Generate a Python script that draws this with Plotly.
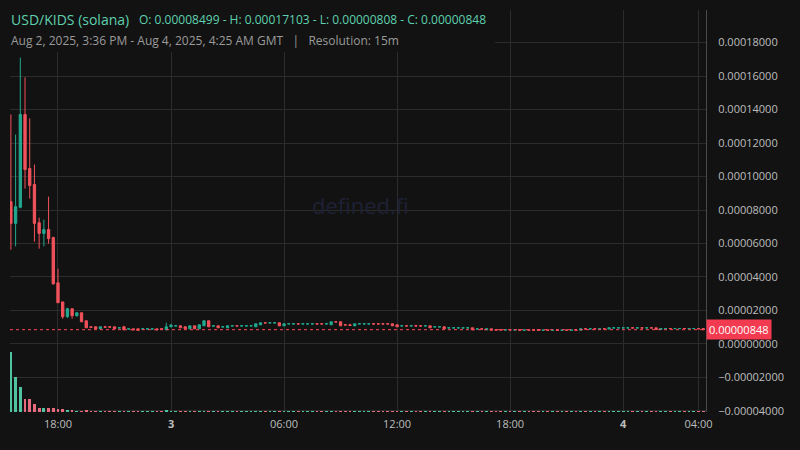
import pandas as pd
import plotly.graph_objects as go

# ---------------- data (prices in units of 1e-6 USD) ----------------
start_time = "2025-08-02 15:30"
n_candles = 148

open_u = [84.99, 72.0, 81.6, 137.1, 104.8, 95.2, 72.4, 66.0, 68.3, 63.5,
          36.5, 25.1, 16.2, 21.0, 16.8, 18.6, 13.8, 10.2, 10.2, 9.0,
          10.2, 10.2, 10.2, 9.5, 10.2, 8.9, 9.0, 9.0, 8.9, 8.9,
          8.9, 9.0, 9.0, 8.4, 10.2, 10.7, 10.8, 10.2, 9.0, 10.8,
          9.0, 10.8, 13.8, 10.6, 10.8, 10.1, 9.6, 10.7, 10.8, 10.7,
          10.7, 10.7, 10.2, 11.4, 12.6, 12.5, 12.5, 12.6, 10.8, 11.9,
          11.9, 12.0, 11.9, 11.9, 11.9, 12.0, 12.0, 11.9, 11.4, 13.2,
          13.2, 11.4, 11.4, 10.8, 11.9, 11.9, 11.9, 12.0, 12.0, 12.0,
          12.0, 12.0, 11.4, 10.7, 10.8, 10.7, 10.8, 10.8, 10.7, 10.8,
          10.1, 10.1, 10.2, 9.5, 9.5, 9.5, 9.5, 9.5, 9.6, 8.9,
          9.0, 8.4, 9.0, 8.4, 8.4, 8.3, 8.4, 8.3, 8.4, 8.2,
          8.3, 8.3, 8.6, 8.1, 8.3, 8.1, 8.3, 8.1, 8.3, 8.1,
          8.3, 8.2, 9.0, 8.9, 9.0, 8.9, 9.0, 8.9, 9.5, 9.5,
          9.5, 9.5, 9.6, 9.5, 9.6, 9.5, 9.6, 9.6, 8.6, 9.1,
          9.2, 9.1, 9.1, 9.2, 9.1, 9.1, 9.2, 9.2]
high_u = [137.1, 125.1, 171.03, 159.3, 134.7, 107.2, 75.4, 74.2, 88.0, 64.1,
          44.9, 25.1, 21.6, 21.0, 18.6, 18.6, 13.8, 10.2, 10.2, 10.2,
          10.2, 10.2, 10.2, 9.6, 10.8, 9.0, 9.0, 9.0, 9.0, 9.0,
          9.0, 9.0, 9.0, 12.6, 12.0, 10.8, 10.8, 10.2, 10.8, 10.8,
          11.4, 13.8, 13.8, 10.8, 10.8, 10.2, 10.8, 10.8, 10.8, 10.8,
          10.8, 10.8, 12.0, 12.6, 12.6, 12.6, 12.6, 12.6, 12.0, 12.0,
          12.0, 12.0, 12.0, 12.0, 12.0, 12.0, 12.0, 12.6, 13.2, 13.2,
          13.2, 11.4, 12.0, 12.0, 12.0, 12.0, 12.0, 12.0, 12.0, 12.0,
          12.0, 12.0, 11.4, 10.8, 10.8, 10.8, 11.4, 10.8, 10.8, 10.8,
          10.2, 10.2, 10.2, 9.6, 9.6, 9.6, 9.6, 9.6, 9.6, 9.0,
          9.0, 9.0, 9.0, 8.4, 8.4, 8.4, 8.4, 8.4, 8.4, 8.3,
          8.3, 8.3, 8.6, 8.2, 8.3, 8.2, 8.3, 8.2, 8.3, 8.3,
          8.3, 9.0, 9.0, 9.0, 9.0, 9.0, 9.0, 9.6, 9.6, 9.6,
          9.6, 9.6, 9.6, 9.6, 9.6, 9.6, 9.6, 9.6, 9.2, 9.2,
          9.2, 9.2, 9.2, 9.2, 9.2, 9.2, 9.2, 9.2]
low_u = [56.3, 58.3, 81.0, 92.8, 86.8, 61.1, 56.9, 58.3, 59.9, 35.3,
         24.6, 15.0, 15.6, 15.0, 16.2, 13.2, 9.6, 9.9, 9.0, 9.0,
         10.0, 10.0, 9.0, 9.5, 8.4, 8.9, 8.4, 8.08, 8.9, 8.9,
         8.9, 8.4, 8.9, 8.4, 10.2, 10.7, 9.6, 9.0, 9.0, 9.0,
         9.0, 10.8, 10.2, 10.6, 9.6, 10.1, 9.6, 10.7, 10.7, 10.7,
         10.7, 10.7, 10.2, 11.4, 12.5, 12.5, 12.5, 10.8, 10.8, 11.9,
         11.9, 11.9, 11.9, 11.9, 11.9, 11.9, 11.9, 11.9, 11.4, 13.1,
         10.8, 11.3, 10.8, 10.8, 11.9, 11.9, 11.9, 11.9, 11.9, 11.9,
         11.9, 10.8, 10.2, 10.7, 10.7, 10.7, 10.7, 10.7, 10.7, 9.6,
         10.1, 10.1, 9.0, 9.5, 9.5, 9.5, 9.5, 9.5, 8.4, 8.9,
         8.9, 8.4, 8.2, 8.3, 8.3, 8.3, 8.3, 8.3, 8.2, 8.2,
         8.2, 8.2, 8.08, 8.1, 8.2, 8.1, 8.1, 8.1, 8.2, 8.1,
         8.2, 8.2, 8.9, 8.9, 8.9, 8.9, 8.9, 8.9, 9.5, 9.5,
         9.5, 9.5, 9.5, 9.5, 9.5, 9.5, 9.5, 8.6, 8.6, 9.1,
         9.1, 9.1, 9.1, 9.1, 9.1, 9.1, 9.0, 8.48]
close_u = [72.0, 82.0, 137.1, 104.2, 94.6, 72.0, 66.0, 68.3, 62.9, 35.9,
           24.6, 16.2, 21.0, 16.8, 18.6, 13.2, 9.6, 9.9, 9.0, 10.2,
           10.0, 10.0, 9.0, 9.6, 8.4, 9.0, 8.4, 8.1, 9.0, 9.0,
           9.0, 8.4, 8.9, 10.2, 11.2, 10.8, 9.6, 9.0, 10.8, 9.0,
           11.4, 13.8, 10.2, 10.8, 9.6, 10.2, 10.8, 10.8, 10.7, 10.8,
           10.8, 10.8, 12.0, 12.6, 12.5, 12.6, 12.6, 10.8, 12.0, 12.0,
           12.0, 11.9, 12.0, 12.0, 12.0, 11.9, 11.9, 12.0, 13.2, 13.1,
           10.8, 11.3, 11.0, 12.0, 12.0, 12.0, 12.0, 11.9, 11.9, 11.9,
           11.9, 10.8, 10.2, 10.8, 10.7, 10.8, 10.7, 10.7, 10.8, 9.6,
           10.2, 10.2, 9.0, 9.6, 9.6, 9.6, 9.6, 9.6, 8.4, 9.0,
           8.9, 9.0, 8.2, 8.3, 8.3, 8.4, 8.3, 8.4, 8.2, 8.3,
           8.2, 8.2, 8.1, 8.2, 8.2, 8.2, 8.1, 8.2, 8.2, 8.3,
           8.2, 9.0, 8.9, 9.0, 8.9, 9.0, 8.9, 9.6, 9.6, 9.6,
           9.6, 9.6, 9.5, 9.6, 9.5, 9.6, 9.5, 8.6, 9.2, 9.2,
           9.1, 9.2, 9.2, 9.1, 9.2, 9.2, 9.0, 8.48]

volume = [5970, 3470, 2470, 1270, 1270, 770, 370, 370, 370, 370,
          270, 270, 170, 170, 90, 90, 170, 60, 60, 70,
          60, 50, 60, 50, 70, 50, 60, 60, 50, 50,
          50, 60, 50, 170, 90, 60, 70, 60, 60, 60,
          60, 90, 80, 50, 60, 50, 60, 50, 50, 50,
          50, 50, 70, 70, 50, 50, 50, 70, 60, 50,
          50, 50, 50, 50, 50, 50, 50, 50, 70, 50,
          70, 50, 60, 60, 50, 50, 50, 50, 50, 50,
          50, 60, 60, 50, 50, 50, 50, 50, 50, 60,
          50, 50, 60, 50, 50, 50, 50, 50, 60, 50,
          50, 50, 60, 50, 50, 50, 50, 50, 50, 50,
          50, 50, 60, 50, 50, 50, 50, 50, 50, 50,
          50, 60, 50, 50, 50, 50, 50, 60, 50, 50,
          50, 50, 50, 50, 50, 50, 50, 60, 60, 50,
          50, 50, 50, 50, 50, 50, 50, 60]
# volume bar side: 1 = buy (green), 0 = sell (red)
vol_buy = [1, 1, 1, 0, 0, 0, 0, 1, 0, 0, 0, 0, 1, 0]

last_price = 8.48e-6
title_main = "USD/KIDS (solana)"
title_ohlc = "O: 0.00008499 - H: 0.00017103 - L: 0.00000808 - C: 0.00000848"
subtitle = "Aug 2, 2025, 3:36 PM - Aug 4, 2025, 4:25 AM GMT &nbsp;&nbsp;|&nbsp;&nbsp; Resolution: 15m"
x_tick_times = ["2025-08-02 18:00", "2025-08-03 00:00", "2025-08-03 06:00", "2025-08-03 12:00",
                "2025-08-03 18:00", "2025-08-04 00:00", "2025-08-04 04:00"]
x_tick_text = ["18:00", "<b>3</b>", "06:00", "12:00", "18:00", "<b>4</b>", "04:00"]

# ---------------- build ----------------
S = 1e-6
times = pd.date_range(start_time, periods=n_candles, freq="15min")
o = [v * S for v in open_u]
h = [v * S for v in high_u]
l = [v * S for v in low_u]
c = [v * S for v in close_u]

UP = "#22a88f"
DN = "#f2525b"
VUP = "#4fc3a0"
VDN = "#e86a7d"
BG = "#121212"
GRID = "#2c2c2c"

vol_colors = []
for i in range(n_candles):
    if i < len(vol_buy):
        up = vol_buy[i] == 1
    else:
        up = close_u[i] >= open_u[i]
    vol_colors.append(VUP if up else VDN)

fig = go.Figure()
fig.add_trace(go.Bar(x=times, y=volume, marker=dict(color=vol_colors, line=dict(width=0)),
                     width=15 * 60 * 1000 * 0.58, yaxis="y2", showlegend=False))
fig.add_trace(go.Candlestick(
    x=times, open=o, high=h, low=l, close=c,
    increasing=dict(line=dict(color=UP, width=1), fillcolor=UP),
    decreasing=dict(line=dict(color=DN, width=1), fillcolor=DN),
    whiskerwidth=0, showlegend=False, yaxis="y"))

fig.update_layout(
    width=800, height=450,
    paper_bgcolor=BG, plot_bgcolor=BG,
    margin=dict(l=10, r=94, t=10, b=38),
    font=dict(family="Open Sans", color="#bdbdbd", size=11),
    showlegend=False,
    bargap=0,
    xaxis=dict(
        type="date",
        range=["2025-08-02 15:27:10", "2025-08-04 04:23:50"],
        rangeslider=dict(visible=False),
        tickvals=x_tick_times, ticktext=x_tick_text,
        showgrid=True, gridcolor=GRID, gridwidth=1,
        zeroline=False, showline=False, ticks="",
        tickfont=dict(size=11, color="#bdbdbd"),
        ticklabelstandoff=4,
    ),
    yaxis=dict(
        side="right",
        range=[-0.0000407, 0.0001995],
        tick0=0, dtick=0.00002, tickformat=".8f",
        showgrid=True, gridcolor=GRID, gridwidth=1,
        zeroline=False, showline=True, linecolor="#4a4a4a", linewidth=1,
        ticks="", ticklabelstandoff=9,
        tickfont=dict(size=11, color="#bdbdbd"),
    ),
    yaxis2=dict(
        overlaying="y", range=[0, 40200], visible=False,
        showgrid=False, zeroline=False,
    ),
)

# box behind the header text (hides grid there)
fig.add_shape(type="rect", xref="paper", yref="paper", x0=-0.02, x1=0.697, y0=0.8955, y1=1.01,
              fillcolor=BG, line=dict(width=0), layer="above")

# last price dashed line
fig.add_shape(type="line", xref="paper", yref="y", x0=0, x1=1, y0=last_price, y1=last_price,
              line=dict(color="#ff4655", width=1, dash="3px,3px"), layer="above")

fig.add_annotation(xref="paper", yref="y", x=1, y=last_price, xanchor="left", yanchor="middle",
                   text="0.00000848", showarrow=False, bgcolor="#f23a50",
                   font=dict(size=11, color="#ffffff", family="Open Sans"), borderpad=2,
                   xshift=0)

# watermark
fig.add_annotation(xref="paper", yref="paper", x=0.503, y=0.515, text="defined.fi",
                   showarrow=False, font=dict(size=22, color="#1e2135", family="Open Sans"))

# header
fig.add_annotation(xref="paper", yref="paper", x=0, y=0.9776, xanchor="left", yanchor="middle",
                   text=title_main, showarrow=False, xshift=-1,
                   font=dict(size=14, color="#5fd0ae", family="Open Sans"))
fig.add_annotation(xref="paper", yref="paper", x=0.1825, y=0.9776, xanchor="left", yanchor="middle",
                   text=title_ohlc, showarrow=False,
                   font=dict(size=12, color="#5fd0ae", family="Open Sans"))
fig.add_annotation(xref="paper", yref="paper", x=0, y=0.923, xanchor="left", yanchor="middle",
                   text=subtitle, showarrow=False, xshift=-1,
                   font=dict(size=12, color="#9a9a9a", family="Open Sans"))

fig.write_html("out.html", config={"displayModeBar": False},
               post_script="document.body.style.margin='0';document.body.style.overflow='hidden';")
